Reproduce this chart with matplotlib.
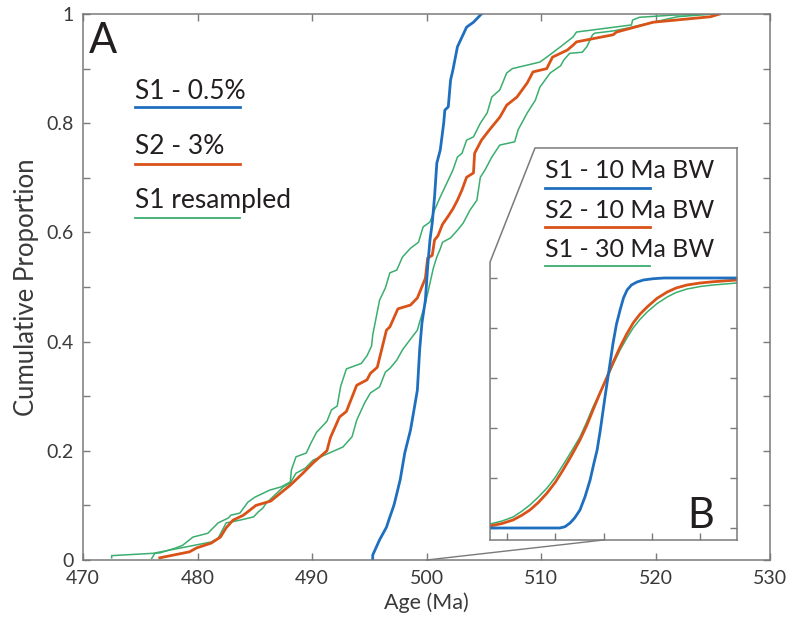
import numpy as np
import matplotlib.pyplot as plt
from matplotlib.patches import ConnectionPatch

plt.rcParams['font.family'] = ['Lato', 'DejaVu Sans']

# ---- main panel (A): cumulative proportion curves ----
s1_age = [495.3, 495.3, 495.9, 496.5, 496.8, 497.1, 497.2, 497.7, 498.1, 498.6, 498.8,
          499.2, 499.4, 499.6, 499.9, 500.1, 500.3, 500.5, 500.7, 500.9, 501.2, 501.5,
          501.6, 501.9, 502.1, 502.3, 502.7, 503.1, 503.5, 504.1, 504.7, 504.8]
s1_cum = [0.0, 0.009, 0.037, 0.06, 0.079, 0.097, 0.104, 0.147, 0.196, 0.238, 0.262,
          0.311, 0.385, 0.434, 0.476, 0.537, 0.586, 0.617, 0.665, 0.727, 0.751, 0.80,
          0.824, 0.83, 0.879, 0.897, 0.94, 0.958, 0.976, 0.985, 0.998, 1.0]

s2_age = [476.7, 479.3, 479.9, 481.2, 482.0, 482.5, 483.1, 484.0, 485.1, 486.4, 486.8,
          488.1, 489.2, 490.1, 491.3, 491.6, 492.4, 493.0, 493.9, 494.8, 495.1, 495.7,
          496.5, 496.8, 497.5, 498.6, 499.2, 499.9, 500.1, 500.5, 500.7, 501.0, 501.4,
          501.9, 502.3, 502.7, 503.1, 503.5, 504.1, 504.2, 504.8, 505.5, 506.4, 507.0,
          507.9, 508.8, 509.3, 510.5, 511.0, 512.3, 512.8, 513.1, 516.3, 516.6, 519.8,
          524.8, 525.6]
s2_cum = [0.004, 0.015, 0.022, 0.031, 0.042, 0.059, 0.073, 0.082, 0.100, 0.108, 0.115,
          0.137, 0.159, 0.178, 0.200, 0.224, 0.262, 0.272, 0.320, 0.330, 0.342, 0.353,
          0.421, 0.427, 0.460, 0.467, 0.480, 0.516, 0.553, 0.558, 0.586, 0.594, 0.615,
          0.630, 0.643, 0.659, 0.678, 0.701, 0.709, 0.745, 0.769, 0.788, 0.811, 0.833,
          0.848, 0.874, 0.894, 0.900, 0.921, 0.934, 0.943, 0.949, 0.962, 0.967, 0.985,
          0.995, 1.0]

# resampled S1, upper (younger) bound
r1_age = [472.5, 472.5, 476.7, 478.1, 478.7, 479.6, 480.9, 481.8, 482.7, 482.9, 483.7,
          484.4, 485.0, 486.3, 487.3, 488.1, 488.2, 488.6, 489.5, 489.9, 490.4, 491.3,
          491.7, 492.2, 492.5, 493.0, 494.3, 494.8, 495.2, 495.3, 495.9, 496.4, 496.8,
          497.4, 497.9, 498.6, 499.3, 499.7, 500.3, 500.7, 501.2, 501.9, 502.3, 502.7,
          503.1, 503.5, 504.1, 504.7, 505.3, 505.7, 506.4, 507.0, 507.5, 509.9, 510.5,
          511.7, 512.8, 513.1, 517.9, 518.0, 518.6, 521.5, 525.4]
r1_cum = [0.004, 0.008, 0.013, 0.022, 0.027, 0.042, 0.049, 0.068, 0.077, 0.082, 0.086,
          0.106, 0.115, 0.128, 0.134, 0.143, 0.165, 0.189, 0.196, 0.214, 0.234, 0.254,
          0.275, 0.282, 0.318, 0.350, 0.360, 0.374, 0.392, 0.412, 0.476, 0.498, 0.526,
          0.531, 0.555, 0.571, 0.582, 0.610, 0.619, 0.641, 0.665, 0.696, 0.714, 0.738,
          0.745, 0.769, 0.775, 0.800, 0.819, 0.848, 0.861, 0.892, 0.900, 0.912, 0.921,
          0.940, 0.958, 0.967, 0.980, 0.989, 0.994, 0.998, 1.0]

# resampled S1, lower (older) bound
r2_age = [476.0, 476.3, 478.5, 481.2, 481.8, 482.5, 483.7, 484.9, 485.3, 485.7, 486.0,
          487.5, 488.1, 488.6, 489.4, 490.1, 492.7, 493.5, 493.9, 494.6, 495.1, 495.9,
          496.4, 496.8, 497.4, 497.9, 498.4, 499.2, 499.4, 499.9, 500.3, 500.6, 500.9,
          501.2, 501.4, 502.1, 502.7, 503.2, 503.8, 504.4, 504.7, 505.1, 505.7, 506.4,
          507.7, 508.0, 508.8, 509.5, 509.9, 510.8, 511.7, 512.0, 512.5, 513.6, 514.0,
          514.5, 514.7, 516.3, 517.5, 519.8, 521.9, 525.0]
r2_cum = [0.003, 0.013, 0.022, 0.033, 0.040, 0.068, 0.073, 0.079, 0.088, 0.095, 0.104,
          0.134, 0.141, 0.159, 0.168, 0.183, 0.207, 0.226, 0.256, 0.288, 0.306, 0.317,
          0.344, 0.351, 0.366, 0.385, 0.399, 0.421, 0.436, 0.470, 0.507, 0.535, 0.555,
          0.570, 0.582, 0.590, 0.604, 0.617, 0.641, 0.659, 0.701, 0.714, 0.738, 0.760,
          0.766, 0.788, 0.819, 0.842, 0.866, 0.892, 0.905, 0.916, 0.928, 0.930, 0.940,
          0.962, 0.965, 0.969, 0.974, 0.985, 0.995, 1.0]

# ---- inset (B): KDE cumulative curves ----
k1_age = [453.0, 481.9, 484.0, 486.1, 488.0, 490.2, 492.3, 494.4, 496.0, 497.3, 498.6,
          499.8, 500.8, 501.8, 502.9, 503.9, 505.3, 506.8, 508.2, 509.7, 511.5, 513.8,
          516.5, 520.4, 525.0, 555.2]
k1_cum = [0.0, 0.0, 0.005, 0.02, 0.04, 0.072, 0.125, 0.192, 0.26, 0.312, 0.39,
          0.472, 0.54, 0.604, 0.675, 0.74, 0.815, 0.872, 0.92, 0.952, 0.972, 0.984,
          0.992, 0.997, 1.0, 1.0]

k2_age = [453.0, 458.0, 462.5, 466.0, 469.5, 473.0, 476.6, 480.0, 483.2, 486.7, 490.2,
          493.0, 495.6, 498.5, 501.4, 504.1, 506.8, 509.5, 512.2, 515.0, 518.0, 522.0,
          526.3, 530.0, 534.5, 540.0, 545.3, 555.2]
k2_cum = [0.008, 0.018, 0.032, 0.05, 0.072, 0.102, 0.14, 0.183, 0.232, 0.29, 0.352,
          0.41, 0.472, 0.54, 0.604, 0.666, 0.724, 0.775, 0.82, 0.855, 0.884, 0.918,
          0.944, 0.96, 0.972, 0.98, 0.985, 0.992]

k3_age = [453.0, 458.0, 462.5, 466.0, 469.5, 473.0, 476.6, 480.0, 483.2, 486.7, 490.2,
          493.0, 495.6, 498.5, 501.4, 504.1, 506.8, 509.5, 512.2, 515.0, 518.0, 522.0,
          526.3, 530.0, 534.5, 540.0, 545.3, 555.2]
k3_cum = [0.016, 0.028, 0.044, 0.066, 0.092, 0.124, 0.16, 0.203, 0.252, 0.307, 0.364,
          0.424, 0.484, 0.542, 0.600, 0.658, 0.712, 0.758, 0.800, 0.834, 0.864, 0.897,
          0.924, 0.942, 0.956, 0.966, 0.972, 0.980]

blue = '#1f6fbf'
orange = '#d95319'
green = '#3aae6e'
frame = '#7a7a7a'
txt = '#231f20'

fig = plt.figure(figsize=(7.9, 6.26), dpi=100)
ax = fig.add_axes([0.1051, 0.1054, 0.8696, 0.8722])

ax.plot(r1_age, r1_cum, color=green, lw=1.1)
ax.plot(r2_age, r2_cum, color=green, lw=1.1)
ax.plot(s2_age, s2_cum, color=orange, lw=2.0)
ax.plot(s1_age, s1_cum, color=blue, lw=2.0)

ax.set_xlim(470, 530)
ax.set_ylim(0, 1)
ax.set_xticks(np.arange(470, 531, 10))
ax.set_yticks(np.arange(0, 1.01, 0.2))
ax.set_yticklabels(['0', '0.2', '0.4', '0.6', '0.8', '1'])
ax.set_yticks(np.arange(0.1, 1.0, 0.2), minor=True)
ax.tick_params(which='both', direction='in', length=5, width=1, color=frame,
               top=True, right=True, labelsize=14, labelcolor='#3a3a3a', pad=7)
for sp in ax.spines.values():
    sp.set_color(frame)
    sp.set_linewidth(1.1)
ax.set_xlabel('Age (Ma)', fontsize=15.5, color='#3a3a3a', labelpad=4)
ax.set_ylabel('Cumulative Proportion', fontsize=18.5, color='#3a3a3a', labelpad=5)

ax.text(0.008, 0.9286, 'A', transform=ax.transAxes, fontsize=30, color=txt)

# legend of panel A (labels with line underneath)
leg_a = [('S1 - 0.5%', blue, 2.0, 0.8443, 0.8297),
         ('S2 - 3%', orange, 2.0, 0.7436, 0.7253),
         ('S1 resampled', green, 1.3, 0.6447, 0.6264)]
for lab, c, lw, ty, ly in leg_a:
    ax.text(0.0757, ty, lab, transform=ax.transAxes, fontsize=19, color=txt,
            va='baseline')
    ax.plot([0.0757, 0.2285], [ly, ly], transform=ax.transAxes, color=c, lw=lw)

# ---- inset ----
axin = fig.add_axes([0.6203, 0.1374, 0.3127, 0.6262])
axin.patch.set_alpha(0)
axin.plot(k3_age, k3_cum, color=green, lw=1.1)
axin.plot(k2_age, k2_cum, color=orange, lw=2.0)
axin.plot(k1_age, k1_cum, color=blue, lw=2.0)
axin.set_xlim(453.0, 555.2)
axin.set_ylim(-0.048, 1.52)
axin.set_xticks(np.arange(460, 541, 20))
axin.set_yticks(np.arange(0, 1.01, 0.2))
axin.tick_params(direction='in', length=5, width=1, color=frame, right=True,
                 labelbottom=False, labelleft=False)
axin.spines['left'].set_visible(False)
axin.spines['top'].set_visible(False)
for sp in ['right', 'bottom']:
    axin.spines[sp].set_color(frame)
    axin.spines[sp].set_linewidth(1.1)
axin.plot([0, 0, 0.182, 1], [0, 0.709, 1, 1], transform=axin.transAxes,
          color=frame, lw=1.1, clip_on=False)

leg_b = [('S1 - 10 Ma BW', blue, 2.0, 0.9235, 0.898),
         ('S2 - 10 Ma BW', orange, 2.0, 0.8214, 0.7985),
         ('S1 - 30 Ma BW', green, 1.3, 0.7219, 0.699)]
for lab, c, lw, ty, ly in leg_b:
    axin.text(0.2227, ty, lab, transform=axin.transAxes, fontsize=18, color=txt,
              va='baseline')
    axin.plot([0.2227, 0.6478], [ly, ly], transform=axin.transAxes, color=c, lw=lw)

axin.text(0.80, 0.0306, 'B', transform=axin.transAxes, fontsize=30, color=txt,
          va='baseline')

# zoom connector from the main axis to the inset
con = ConnectionPatch(xyA=(500, 0), coordsA=ax.transData,
                      xyB=(500, -0.048), coordsB=axin.transData,
                      color=frame, lw=1.0)
fig.add_artist(con)

fig.savefig('out.png', dpi=100)
